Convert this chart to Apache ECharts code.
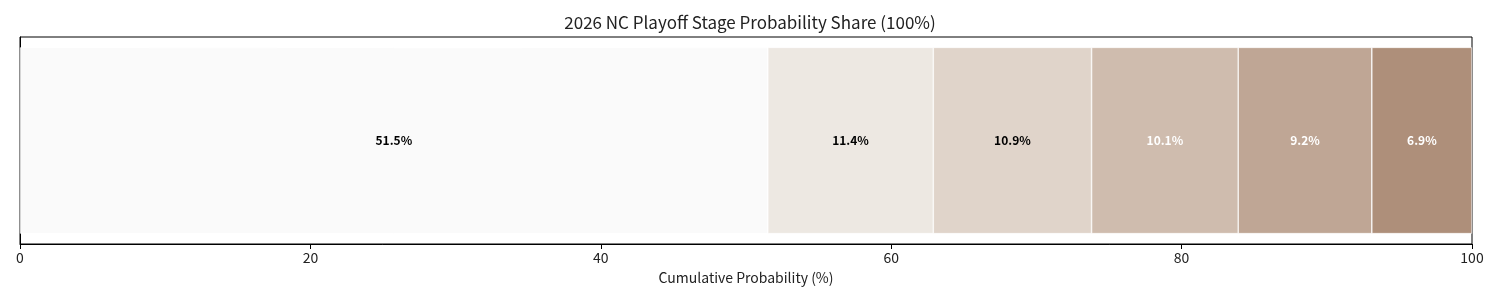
<!DOCTYPE html>
<html>
<head>
<meta charset="utf-8">
<script src="https://cdn.jsdelivr.net/npm/echarts@6/dist/echarts.min.js"></script>
<style>html,body{margin:0;padding:0;background:#fff;}#c{width:1500px;height:300px;}</style>
</head>
<body>
<div id="c"></div>
<script>
const categories = ['NC'];
const stageNames = ['Miss Playoffs', 'Wild Card', 'Semi-Playoff', 'Playoff', 'Korean Series', 'Champion'];
const stageValues = [51.5, 11.4, 10.9, 10.1, 9.2, 6.9];
const stageColors = ['#fafafa', '#ede8e2', '#e0d4ca', '#cfbcae', '#bfa695', '#ae8f7a'];
const labelColors = ['#000', '#000', '#000', '#fff', '#fff', '#fff'];
const xTicks = [0, 20, 40, 60, 80, 100];

const FONT = '"Noto Sans CJK KR", "Noto Sans", sans-serif';
const chart = echarts.init(document.getElementById('c'));
chart.setOption({
  animation: false,
  backgroundColor: '#fff',
  title: {
    text: '2026 NC Playoff Stage Probability Share (100%)',
    left: 'center', top: 9,
    textStyle: {fontFamily: FONT, fontSize: 17, fontWeight: 'normal', color: '#222'}
  },
  grid: {left: 20, right: 28, top: 37, bottom: 56, show: true, borderColor: '#000', borderWidth: 1, backgroundColor: 'transparent'},
  xAxis: {
    type: 'value', min: xTicks[0], max: xTicks[xTicks.length - 1], interval: 20,
    name: 'Cumulative Probability (%)', nameLocation: 'middle', nameGap: 27,
    nameTextStyle: {fontFamily: FONT, fontSize: 14, color: '#222'},
    axisLine: {show: true, lineStyle: {color: '#000', width: 1}},
    axisTick: {show: true, length: 5, lineStyle: {color: '#000'}},
    axisLabel: {fontFamily: FONT, fontSize: 14, color: '#222', margin: 7},
    splitLine: {show: false}
  },
  yAxis: {
    type: 'category', data: categories,
    axisLine: {show: true, lineStyle: {color: '#000'}},
    axisTick: {show: false}, axisLabel: {show: false}
  },
  series: stageNames.map((name, i) => ({
    name, type: 'bar', stack: 'total', barWidth: '90%',
    data: [stageValues[i]],
    itemStyle: {color: stageColors[i], borderColor: '#fff', borderWidth: 0.6},
    label: {
      show: true, position: 'inside',
      formatter: p => p.value.toFixed(1) + '%',
      fontFamily: FONT, fontSize: 12, fontWeight: 'bold', color: labelColors[i]
    }
  }))
});
</script>
</body>
</html>
